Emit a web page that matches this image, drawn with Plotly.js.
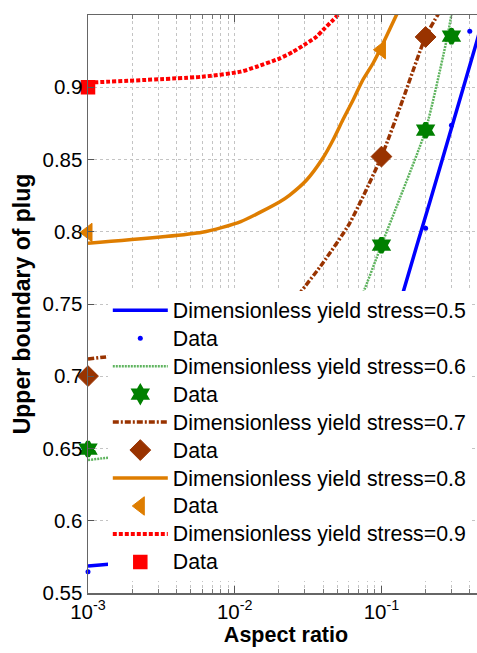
<!DOCTYPE html>
<html>
<head>
<meta charset="utf-8">
<script src="https://cdn.plot.ly/plotly-3.0.1.min.js"></script>
<style>
html, body { margin: 0; padding: 0; overflow: hidden; background: #fff; }
#chart { width: 490px; height: 653px; }
</style>
</head>
<body>
<div id="chart"></div>
<script>
// ---- data ----
const seriesNames = ["Dimensionless yield stress=0.5", "Dimensionless yield stress=0.6",
  "Dimensionless yield stress=0.7", "Dimensionless yield stress=0.8", "Dimensionless yield stress=0.9"];
const dataName = "Data";

// model curves
const xModel05 = [0.001, 0.006, 0.011, 0.021, 0.041, 0.061, 0.081, 0.101, 0.14, 0.2157, 0.3044, 0.4435, 0.5];
const yModel05 = [0.5687, 0.5760, 0.581, 0.592, 0.616, 0.640, 0.668, 0.703, 0.7576, 0.822, 0.8739, 0.9306, 0.950];

const xModel06 = [0.001, 0.006, 0.011, 0.021, 0.031, 0.041, 0.051, 0.061, 0.0749, 0.1, 0.1332, 0.2, 0.2828, 0.2997, 0.32];
const yModel06 = [0.642, 0.652, 0.658, 0.672, 0.688, 0.705, 0.722, 0.738, 0.7576, 0.7908, 0.823, 0.8704, 0.9362, 0.950, 0.963];

const xModel07 = [0.001, 0.006, 0.011, 0.016, 0.021, 0.0278, 0.0399, 0.0608, 0.1, 0.1396, 0.2, 0.2417, 0.27];
const yModel07 = [0.7119, 0.7217, 0.727, 0.733, 0.7425, 0.7576, 0.7784, 0.806, 0.852, 0.8912, 0.935, 0.950, 0.958];

const xModel08 = [0.001, 0.006, 0.011, 0.0203, 0.0237, 0.0309, 0.0399, 0.0468, 0.0545, 0.0641, 0.0746, 0.0877, 0.1, 0.1265, 0.14];
const yModel08 = [0.792, 0.7996, 0.807, 0.8208, 0.8254, 0.8358, 0.851, 0.8635, 0.8773, 0.8912, 0.905, 0.9166, 0.928, 0.950, 0.959];

const xModel09 = [0.001, 0.006, 0.011, 0.0141, 0.0203, 0.025, 0.0309, 0.0361, 0.0399, 0.0468, 0.0504, 0.056];
const yModel09 = [0.9032, 0.9073, 0.9108, 0.9142, 0.9200, 0.9246, 0.9304, 0.9350, 0.9396, 0.9465, 0.9500, 0.9560];

// measured data
const xData05 = [0.001, 0.2, 0.3, 0.4];
const yData05 = [0.5647, 0.8025, 0.8737, 0.9387];
const xData06 = [0.001, 0.1, 0.2, 0.3];
const yData06 = [0.6496, 0.7907, 0.8703, 0.9353];
const xData07 = [0.001, 0.1, 0.2];
const yData07 = [0.7001, 0.852, 0.9348];
const xData08 = [0.001, 0.1];
const yData08 = [0.7995, 0.926];
const xData09 = [0.001];
const yData09 = [0.9];

// axis ticks
const xTickVals = [0.001, 0.01, 0.1];
const xTickText = ["10<sup>-3</sup>", "10<sup>-2</sup>", "10<sup>-1</sup>"];
const yTickVals = [0.55, 0.6, 0.65, 0.7, 0.75, 0.8, 0.85, 0.9];
const yTickText = ["0.55", "0.6", "0.65", "0.7", "0.75", "0.8", "0.85", "0.9"];

// ---- styles ----
const FONT = "Liberation Sans, Arial, Helvetica, sans-serif";
const cBlue = "#0000FF", cGreenLine = "rgb(95,180,95)", cGreen = "#008000",
      cBrown = "#993300", cOrange = "#DE7D00", cRed = "#FF0000";

function big(t) { return '<span style="font-size:21.3px">' + t + '</span>'; }

function lineTrace(x, y, name, color, width, dash) {
  return { x: x, y: y, name: big(name), type: "scatter", mode: "lines",
           line: { color: color, width: width, dash: dash, shape: "spline", smoothing: 0.6 } };
}
function dataTrace(x, y, color, symbol, size, lw) {
  return { x: x, y: y, name: big(dataName), type: "scatter", mode: "markers", cliponaxis: false,
           marker: { color: color, symbol: symbol, size: size, line: { color: color, width: lw } } };
}

const traces = [
  lineTrace(xModel05, yModel05, seriesNames[0], cBlue, 3.5, "solid"),
  dataTrace(xData05, yData05, cBlue, "circle", 5, 0),
  lineTrace(xModel06, yModel06, seriesNames[1], cGreenLine, 2.5, "2px,1px"),
  dataTrace(xData06, yData06, cGreen, "hexagram", 11, 4),
  lineTrace(xModel07, yModel07, seriesNames[2], cBrown, 3.5, "6px,2px,2px,2px"),
  dataTrace(xData07, yData07, cBrown, "diamond", 16, 1),
  lineTrace(xModel08, yModel08, seriesNames[3], cOrange, 3.5, "solid"),
  dataTrace(xData08, yData08, cOrange, "triangle-left", 16, 1),
  lineTrace(xModel09, yModel09, seriesNames[4], cRed, 4, "4px,2px"),
  dataTrace(xData09, yData09, cRed, "square", 13, 1.5)
];

const gridCol = "#c4c4c4";
const layout = {
  width: 490, height: 653,
  margin: { l: 88, r: 6, t: 15, b: 60 },
  paper_bgcolor: "#fff", plot_bgcolor: "#fff",
  font: { family: FONT, size: 20, color: "#000" },
  showlegend: true,
  legend: {
    x: 0.05, xanchor: "left", y: 0.522, yanchor: "top",
    bgcolor: "#fff", borderwidth: 0, itemwidth: 55, tracegroupgap: 0,
    font: { family: FONT, size: 19.2, color: "#000" }
  },
  xaxis: {
    type: "log", range: [-3, Math.log10(0.5)],
    tickmode: "array", tickvals: xTickVals, ticktext: xTickText,
    ticks: "inside", ticklen: 7, tickwidth: 1, tickcolor: "#555",
    showline: true, linecolor: "#666", linewidth: 1.5, mirror: "ticks",
    showgrid: true, gridcolor: gridCol, griddash: "dot", gridwidth: 1,
    minor: { dtick: "D1", ticks: "inside", ticklen: 4, tickcolor: "#777",
             showgrid: true, gridcolor: gridCol, griddash: "dot", gridwidth: 1 },
    zeroline: false,
    tickfont: { family: FONT, size: 20.5, color: "#000" },
    title: { text: "Aspect ratio", font: { family: FONT, size: 21.5, weight: 700, color: "#000" }, standoff: 3 }
  },
  yaxis: {
    range: [0.55, 0.95],
    tickmode: "array", tickvals: yTickVals, ticktext: yTickText,
    ticks: "inside", ticklen: 6, tickwidth: 1, tickcolor: "#555",
    showline: true, linecolor: "#666", linewidth: 1.5, mirror: "ticks",
    showgrid: true, gridcolor: gridCol, griddash: "dot", gridwidth: 1,
    zeroline: false,
    tickfont: { family: FONT, size: 20.5, color: "#000" },
    title: { text: "Upper boundary of plug", font: { family: FONT, size: 23, weight: 700, color: "#000" }, standoff: 5 }
  }
};

Plotly.newPlot("chart", traces, layout, { staticPlot: true, displayModeBar: false });
</script>
</body>
</html>
